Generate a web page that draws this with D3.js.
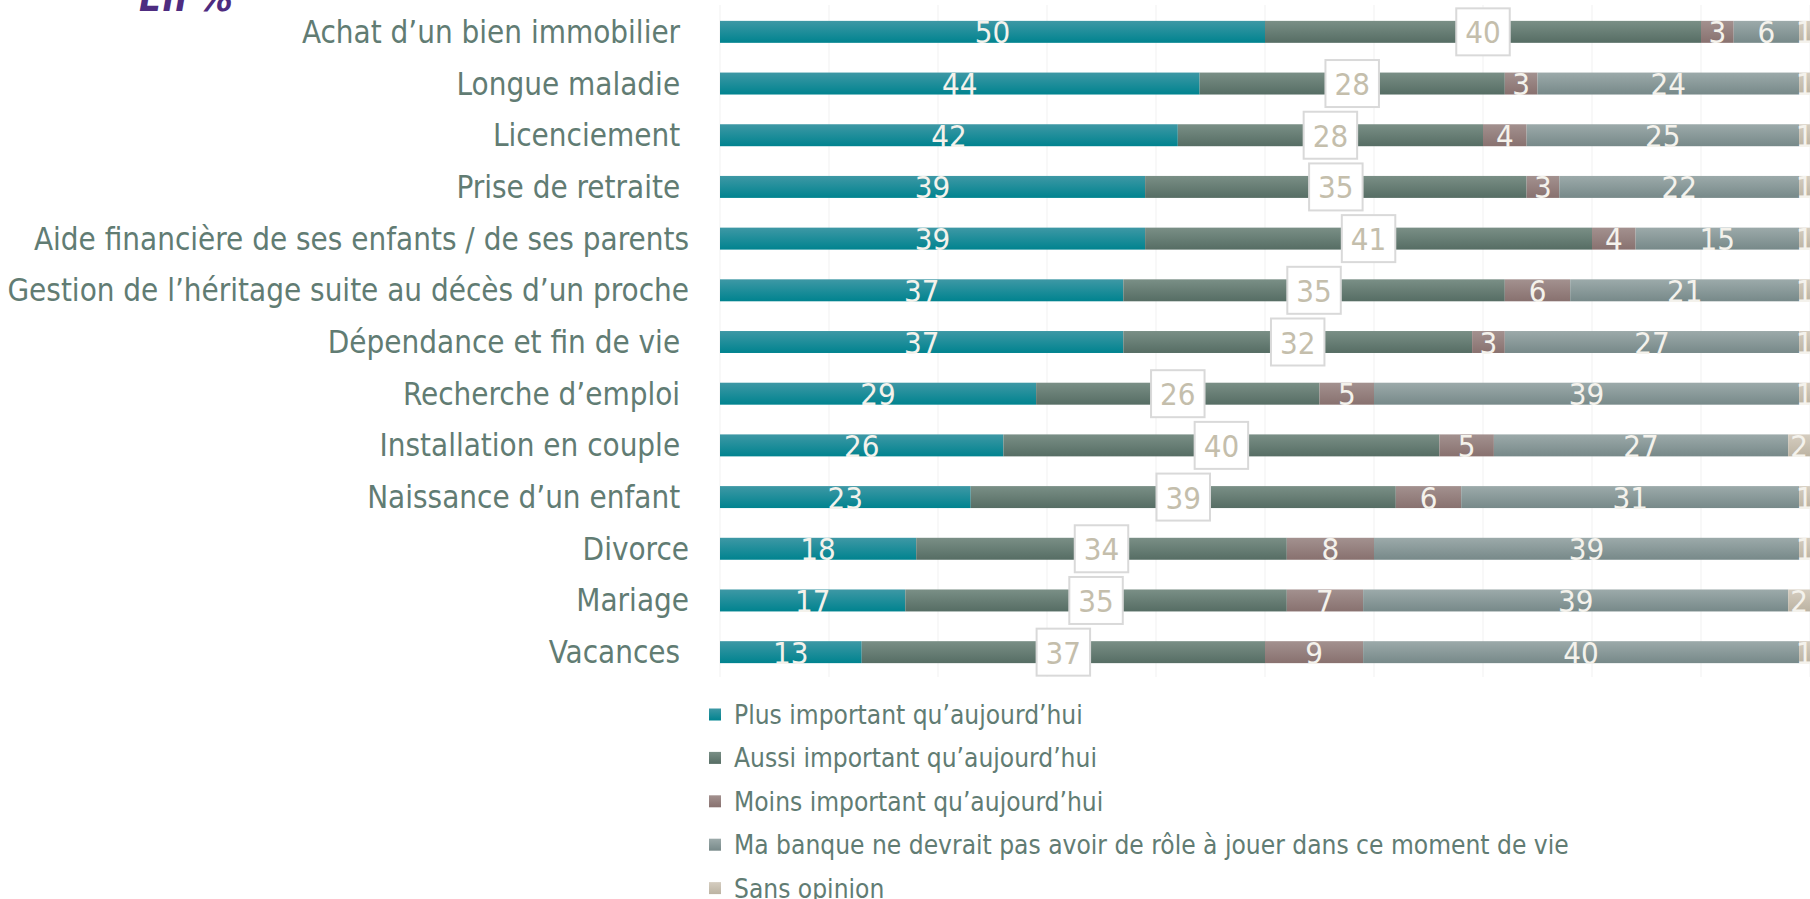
<!DOCTYPE html>
<html>
<head>
<meta charset="utf-8">
<script src="https://cdn.jsdelivr.net/npm/d3@7"></script>
<style>
  html, body { margin: 0; padding: 0; background: #ffffff; overflow: hidden; }
  svg { display: block; }
  text { font-family: "DejaVu Sans Condensed", "DejaVu Sans", sans-serif; font-stretch: condensed; }
</style>
</head>
<body>
<svg id="chart" width="1810" height="899"></svg>
<script>
// ---------- DATA ----------
const categories = [
  "Achat d\u2019un bien immobilier ",
  "Longue maladie ",
  "Licenciement ",
  "Prise de retraite ",
  "Aide financi\u00e8re de ses enfants / de ses parents",
  "Gestion de l\u2019h\u00e9ritage suite au d\u00e9c\u00e8s d\u2019un proche",
  "D\u00e9pendance et fin de vie ",
  "Recherche d\u2019emploi ",
  "Installation en couple ",
  "Naissance d\u2019un enfant ",
  "Divorce",
  "Mariage",
  "Vacances "
];
const plusImportant   = [50, 44, 42, 39, 39, 37, 37, 29, 26, 23, 18, 17, 13];
const aussiImportant  = [40, 28, 28, 35, 41, 35, 32, 26, 40, 39, 34, 35, 37];
const moinsImportant  = [ 3,  3,  4,  3,  4,  6,  3,  5,  5,  6,  8,  7,  9];
const pasDeRole       = [ 6, 24, 25, 22, 15, 21, 27, 39, 27, 31, 39, 39, 40];
const sansOpinion     = [ 1,  1,  1,  1,  1,  1,  1,  1,  2,  1,  1,  2,  1];
const seriesNames = [
  "Plus important qu\u2019aujourd\u2019hui",
  "Aussi important qu\u2019aujourd\u2019hui",
  "Moins important qu\u2019aujourd\u2019hui",
  "Ma banque ne devrait pas avoir de r\u00f4le \u00e0 jouer dans ce moment de vie",
  "Sans opinion"
];
const gridTicks = [0, 10, 20, 30, 40, 50, 60, 70, 80, 90, 100];
const title = "En %";

// ---------- STYLE ----------
const gradStops = [
  ["#3e98a5", "#00838f"],
  ["#7a8f86", "#566d64"],
  ["#a3918f", "#88716f"],
  ["#9caaaa", "#778989"],
  ["#d5cdc0", "#bcb3a2"]
];
const labelColor = "#617c73";

const svg = d3.select("#chart");
const defs = svg.append("defs");
gradStops.forEach((g, i) => {
  const lg = defs.append("linearGradient").attr("id", "grad" + i)
    .attr("x1", 0).attr("y1", 0).attr("x2", 0).attr("y2", 1);
  lg.append("stop").attr("offset", "0%").attr("stop-color", g[0]);
  lg.append("stop").attr("offset", "100%").attr("stop-color", g[1]);
});

const keys = seriesNames;
const rows = categories.map((c, i) => ({
  cat: c,
  [keys[0]]: plusImportant[i],
  [keys[1]]: aussiImportant[i],
  [keys[2]]: moinsImportant[i],
  [keys[3]]: pasDeRole[i],
  [keys[4]]: sansOpinion[i]
}));
const stacked = d3.stack().keys(keys)(rows);

const x = d3.scaleLinear().domain([0, 100]).range([720, 1810]);
const y = d3.scaleBand().domain(categories).range([6, 678])
  .paddingInner(0.575).paddingOuter(0.2875);

// gridlines
svg.append("g").selectAll("line").data(gridTicks).join("line")
  .attr("x1", d => x(d)).attr("x2", d => x(d))
  .attr("y1", 5).attr("y2", 677)
  .attr("stroke", "#f1f1f1").attr("stroke-width", 1);

// title
svg.append("text").attr("x", 139).attr("y", 11)
  .attr("fill", "#4e2c80").attr("font-size", 38)
  .attr("font-weight", "bold").attr("font-style", "italic")
  .text(title);

// category labels
svg.append("g").selectAll("text").data(categories).join("text")
  .attr("x", 689)
  .attr("y", d => y(d) + y.bandwidth() / 2 + 11)
  .attr("text-anchor", "end")
  .attr("xml:space", "preserve")
  .style("white-space", "pre")
  .attr("font-size", 31.1)
  .attr("fill", labelColor)
  .text(d => d);

// bars
const layers = svg.append("g").selectAll("g").data(stacked).join("g")
  .attr("fill", (d, i) => "url(#grad" + i + ")");
layers.selectAll("rect").data(d => d).join("rect")
  .attr("x", d => x(d[0]))
  .attr("width", d => x(d[1]) - x(d[0]))
  .attr("y", d => y(d.data.cat))
  .attr("height", y.bandwidth());

// value labels
const labelG = svg.append("g");
stacked.forEach((layer, si) => {
  layer.forEach(d => {
    const v = d[1] - d[0];
    const cx = (x(d[0]) + x(d[1])) / 2;
    const cy = y(d.data.cat) + y.bandwidth() / 2;
    if (si === 1) {
      const t = labelG.append("text")
        .attr("x", cx).attr("y", cy + 11.5)
        .attr("text-anchor", "middle")
        .attr("font-size", 31)
        .attr("fill", "#c4beac")
        .text(v);
      const w = t.node().getComputedTextLength() + 18;
      labelG.insert("rect", () => t.node())
        .attr("x", cx - w / 2).attr("y", cy - 23.5)
        .attr("width", w).attr("height", 47)
        .attr("fill", "#ffffff")
        .attr("stroke", "#d9d9d9").attr("stroke-width", 2);
    } else {
      labelG.append("text")
        .attr("x", cx).attr("y", cy + 11.5)
        .attr("text-anchor", "middle")
        .attr("font-size", 31)
        .attr("fill", "#f4f2ec")
        .text(v);
    }
  });
});

// legend
const legend = svg.append("g").selectAll("g").data(seriesNames).join("g")
  .attr("transform", (d, i) => "translate(709," + (714.5 + i * 43.4) + ")");
legend.append("rect")
  .attr("x", 0).attr("y", -6).attr("width", 12).attr("height", 12)
  .attr("fill", (d, i) => "url(#grad" + i + ")");
legend.append("text")
  .attr("x", 25).attr("y", 9.5)
  .attr("font-size", 26.1)
  .attr("fill", labelColor)
  .text(d => d);
</script>
</body>
</html>
